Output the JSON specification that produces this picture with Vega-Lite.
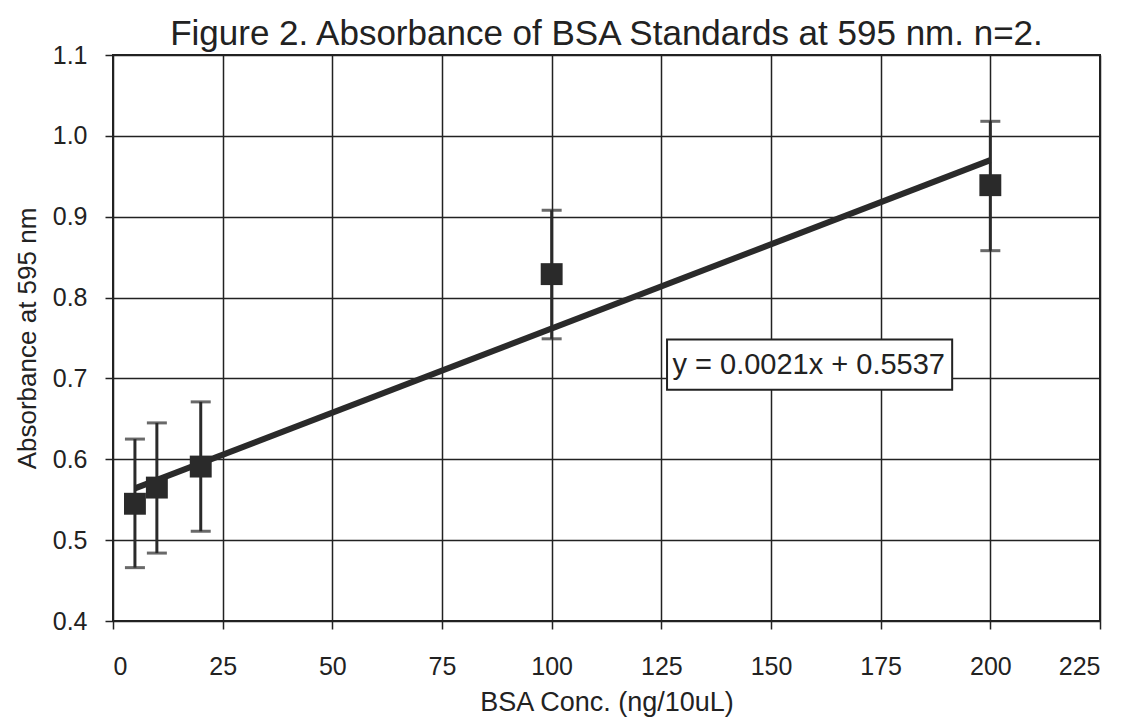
{
  "$schema": "https://vega.github.io/schema/vega-lite/v6.json",
  "width": 987,
  "height": 566,
  "autosize": {"type": "none"},
  "padding": {"left": 113, "top": 55, "right": 23, "bottom": 96},
  "background": "white",
  "title": {
    "text": "Figure 2.  Absorbance of BSA Standards at 595 nm. n=2.",
    "font": "Liberation Sans",
    "fontSize": 35,
    "fontWeight": "normal",
    "color": "#222",
    "anchor": "middle",
    "offset": -9
  },
  "config": {
    "view": {"stroke": "#222", "strokeWidth": 2},
    "axis": {
      "labelFont": "Liberation Sans",
      "titleFont": "Liberation Sans",
      "labelColor": "#222",
      "titleColor": "#222",
      "titleFontWeight": "normal",
      "gridColor": "#222",
      "gridOpacity": 1,
      "gridWidth": 1.5,
      "tickColor": "#222",
      "tickWidth": 1.5,
      "tickSize": 8,
      "domain": false,
      "labelFontSize": 25
    }
  },
  "datasets": {
    "points": [
      {"conc": 5, "abs": 0.545, "lo": 0.466, "hi": 0.625},
      {"conc": 10, "abs": 0.565, "lo": 0.484, "hi": 0.645},
      {"conc": 20, "abs": 0.591, "lo": 0.511, "hi": 0.671},
      {"conc": 100, "abs": 0.829, "lo": 0.749, "hi": 0.908},
      {"conc": 200, "abs": 0.939, "lo": 0.858, "hi": 1.018}
    ],
    "trend": [
      {"conc": 5, "abs": 0.564},
      {"conc": 200, "abs": 0.970}
    ],
    "eq": [
      {"label": "y = 0.0021x + 0.5537"}
    ]
  },
  "layer": [
    {
      "data": {"name": "trend"},
      "mark": {"type": "line", "color": "#2a2a2a", "strokeWidth": 6},
      "encoding": {
        "x": {
          "field": "conc", "type": "quantitative",
          "scale": {"domain": [0, 225], "nice": false},
          "axis": {
            "values": [0, 25, 50, 75, 100, 125, 150, 175, 200, 225],
            "title": "BSA Conc. (ng/10uL)",
            "titleFontSize": 27,
            "labelPadding": 25,
            "titlePadding": 10
          }
        },
        "y": {
          "field": "abs", "type": "quantitative",
          "scale": {"domain": [0.4, 1.1], "nice": false, "zero": false},
          "axis": {
            "values": [0.4, 0.5, 0.6, 0.7, 0.8, 0.9, 1.0, 1.1],
            "format": ".1f",
            "title": "Absorbance at 595 nm",
            "titleFontSize": 26,
            "labelPadding": 18,
            "titlePadding": 12
          }
        }
      }
    },
    {
      "data": {"name": "points"},
      "mark": {"type": "rule", "color": "#2a2a2a", "strokeWidth": 3},
      "encoding": {
        "x": {"field": "conc", "type": "quantitative"},
        "y": {"field": "lo", "type": "quantitative"},
        "y2": {"field": "hi"}
      }
    },
    {
      "data": {"name": "points"},
      "mark": {"type": "tick", "color": "#2a2a2a", "orient": "horizontal", "size": 20, "thickness": 3},
      "encoding": {
        "x": {"field": "conc", "type": "quantitative"},
        "y": {"field": "lo", "type": "quantitative"}
      }
    },
    {
      "data": {"name": "points"},
      "mark": {"type": "tick", "color": "#2a2a2a", "orient": "horizontal", "size": 20, "thickness": 3},
      "encoding": {
        "x": {"field": "conc", "type": "quantitative"},
        "y": {"field": "hi", "type": "quantitative"}
      }
    },
    {
      "data": {"name": "points"},
      "mark": {"type": "square", "color": "#2a2a2a", "opacity": 1, "filled": true, "size": 480},
      "encoding": {
        "x": {"field": "conc", "type": "quantitative"},
        "y": {"field": "abs", "type": "quantitative"}
      }
    },
    {
      "data": {"name": "eq"},
      "mark": {"type": "rect", "fill": "white", "stroke": "#222", "strokeWidth": 2},
      "encoding": {
        "x": {"datum": 126.3, "type": "quantitative"},
        "x2": {"datum": 191.3},
        "y": {"datum": 0.748, "type": "quantitative"},
        "y2": {"datum": 0.686}
      }
    },
    {
      "data": {"name": "eq"},
      "mark": {"type": "text", "font": "Liberation Sans", "fontSize": 29, "color": "#222", "align": "center", "baseline": "middle"},
      "encoding": {
        "x": {"datum": 158.6, "type": "quantitative"},
        "y": {"datum": 0.716, "type": "quantitative"},
        "text": {"field": "label"}
      }
    }
  ]
}
